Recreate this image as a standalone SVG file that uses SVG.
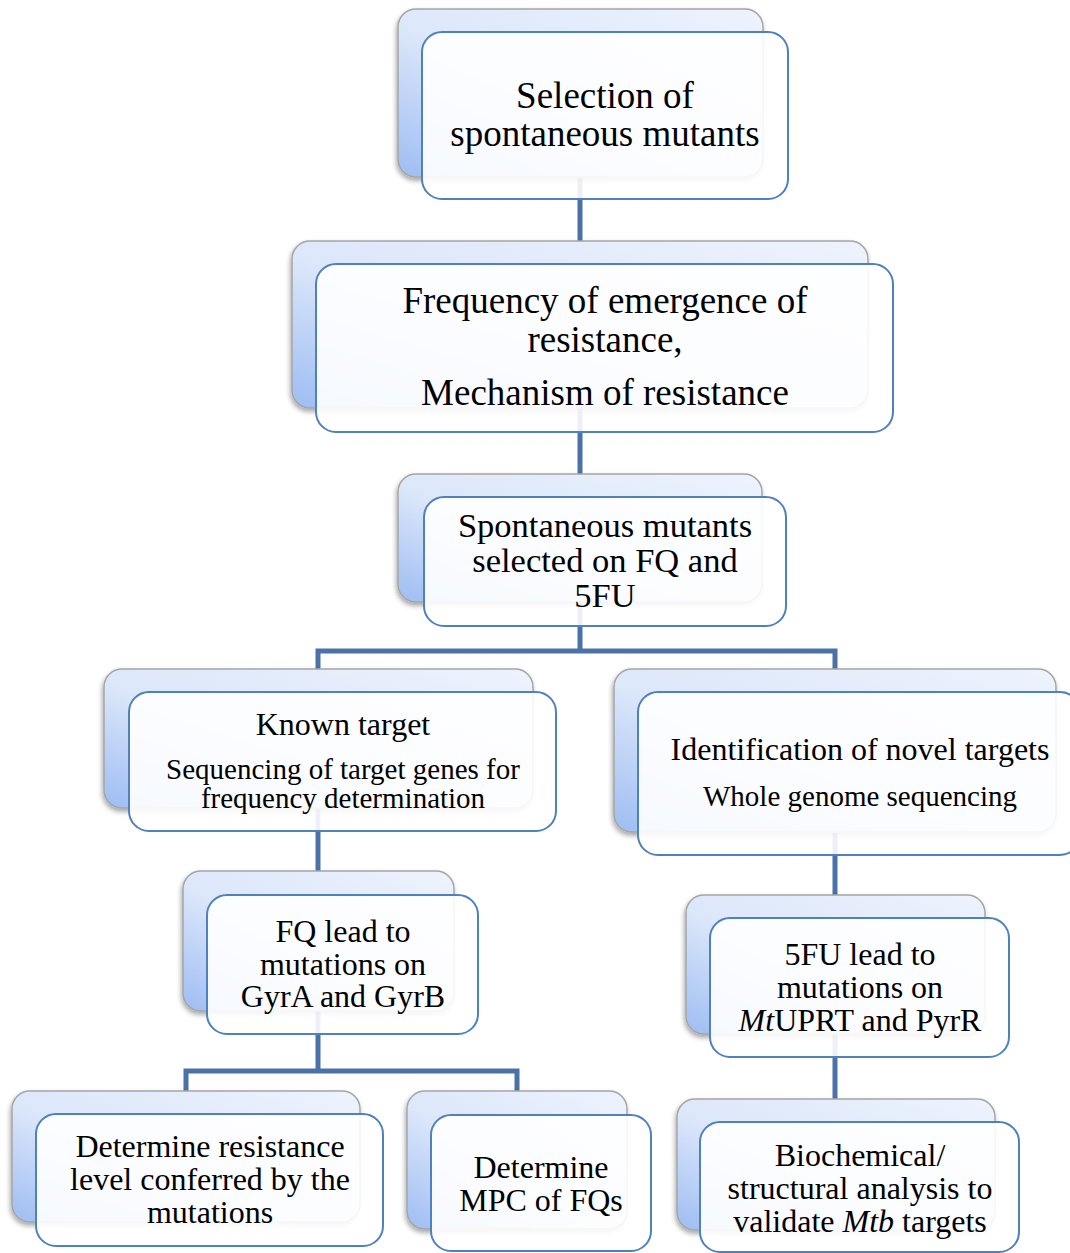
<svg xmlns="http://www.w3.org/2000/svg" width="1070" height="1253" viewBox="0 0 1070 1253">
<defs>
<linearGradient id="bg" x1="1" y1="0" x2="0" y2="1">
<stop offset="0" stop-color="#eef3fd"/>
<stop offset="0.55" stop-color="#dce7fa"/>
<stop offset="1" stop-color="#9ebdf3"/>
</linearGradient>
<filter id="sh" x="-10%" y="-10%" width="120%" height="130%">
<feDropShadow dx="-1" dy="3" stdDeviation="2.5" flood-color="#000" flood-opacity="0.35"/>
</filter>
</defs>
<style>
.back{fill:url(#bg);stroke:#a5a5a5;stroke-width:1.5;filter:url(#sh)}
.front{fill:#ffffff;fill-opacity:0.9;stroke:#4f81bd;stroke-width:2}
.conn{fill:none;stroke:#4a72a8;stroke-width:5}
text{font-family:"Liberation Serif","Times New Roman",serif;fill:#000;text-anchor:middle}
.t37{font-size:37px}
.t35{font-size:34.5px}
.t32{font-size:32px}
.t29{font-size:29px}
</style>
<rect width="1070" height="1253" fill="#ffffff"/>
<g id="connectors">
<path class="conn" d="M580,177 V241"/>
<path class="conn" d="M580,408 V474"/>
<path class="conn" d="M580,602 V651 M318,669 V651 H835 V669"/>
<path class="conn" d="M318,808 V871"/>
<path class="conn" d="M835,832 V895"/>
<path class="conn" d="M318,1011 V1071 M186,1091 V1071 H517 V1091"/>
<path class="conn" d="M835,1034 V1099"/>
</g>
<g id="n1">
<rect class="back" x="398" y="9" width="365" height="168" rx="18"/>
<rect class="front" x="422" y="32" width="366" height="167" rx="20"/>
<text class="t37" x="605" y="108">Selection of</text>
<text class="t37" x="605" y="146">spontaneous mutants</text>
</g>
<g id="n2">
<rect class="back" x="292" y="241" width="576" height="167" rx="18"/>
<rect class="front" x="316" y="264" width="577" height="168" rx="20"/>
<text class="t37" x="605" y="313">Frequency of emergence of</text>
<text class="t37" x="605" y="352">resistance,</text>
<text class="t37" x="605" y="405">Mechanism of resistance</text>
</g>
<g id="n3">
<rect class="back" x="398" y="474" width="364" height="128" rx="18"/>
<rect class="front" x="424" y="497" width="362" height="129" rx="20"/>
<text class="t35" x="605" y="537">Spontaneous mutants</text>
<text class="t35" x="605" y="572">selected on FQ and</text>
<text class="t35" x="605" y="607">5FU</text>
</g>
<g id="n4">
<rect class="back" x="104" y="669" width="429" height="139" rx="18"/>
<rect class="front" x="129" y="692" width="427" height="139" rx="20"/>
<text class="t32" x="343" y="735">Known target</text>
<text class="t29" x="343" y="779">Sequencing of target genes for</text>
<text class="t29" x="343" y="808">frequency determination</text>
</g>
<g id="n5">
<rect class="back" x="614" y="669" width="442" height="163" rx="18"/>
<rect class="front" x="638" y="692" width="442" height="163" rx="20"/>
<text class="t32" x="860" y="760">Identification of novel targets</text>
<text class="t29" x="860" y="806">Whole genome sequencing</text>
</g>
<g id="n6">
<rect class="back" x="183" y="871" width="271" height="140" rx="18"/>
<rect class="front" x="207" y="895" width="271" height="139" rx="20"/>
<text class="t32" x="343" y="942">FQ lead to</text>
<text class="t32" x="343" y="975">mutations on</text>
<text class="t32" x="343" y="1007">GyrA and GyrB</text>
</g>
<g id="n7">
<rect class="back" x="686" y="895" width="299" height="139" rx="18"/>
<rect class="front" x="710" y="918" width="299" height="139" rx="20"/>
<text class="t32" x="860" y="965">5FU lead to</text>
<text class="t32" x="860" y="998">mutations on</text>
<text class="t32" x="860" y="1031"><tspan font-style="italic">Mt</tspan>UPRT and PyrR</text>
</g>
<g id="n8">
<rect class="back" x="12" y="1091" width="348" height="131" rx="18"/>
<rect class="front" x="36" y="1114" width="347" height="132" rx="20"/>
<text class="t32" x="210" y="1157">Determine resistance</text>
<text class="t32" x="210" y="1190">level conferred by the</text>
<text class="t32" x="210" y="1223">mutations</text>
</g>
<g id="n9">
<rect class="back" x="407" y="1091" width="220" height="138" rx="18"/>
<rect class="front" x="431" y="1115" width="220" height="136" rx="20"/>
<text class="t32" x="541" y="1178">Determine</text>
<text class="t32" x="541" y="1211">MPC of FQs</text>
</g>
<g id="n10">
<rect class="back" x="677" y="1099" width="318" height="131" rx="18"/>
<rect class="front" x="700" y="1122" width="319" height="130" rx="20"/>
<text class="t32" x="860" y="1166">Biochemical/</text>
<text class="t32" x="860" y="1199">structural analysis to</text>
<text class="t32" x="860" y="1232">validate <tspan font-style="italic">Mtb</tspan> targets</text>
</g>
</svg>
